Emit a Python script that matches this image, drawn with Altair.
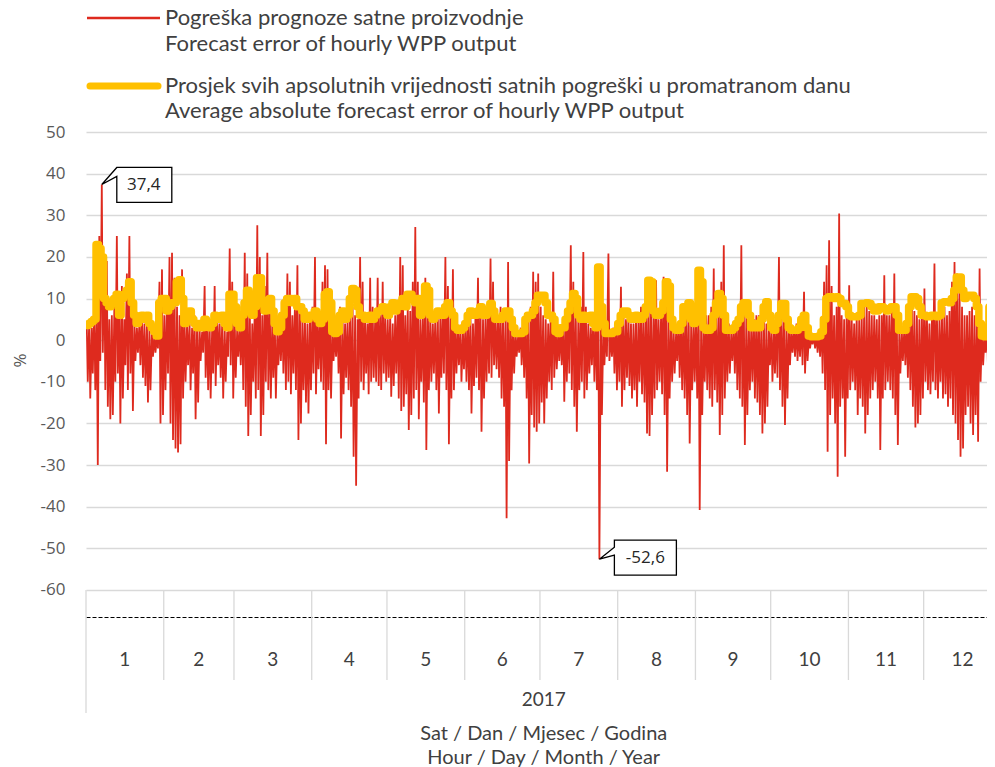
import altair as alt
import pandas as pd

# ---------------- data ----------------
month_days = [31, 28, 31, 30, 31, 30, 31, 31, 30, 31, 30, 31]
month_labels = ["1", "2", "3", "4", "5", "6", "7", "8", "9", "10", "11", "12"]
year_label = "2017"
legend_red = ["Pogreška prognoze satne proizvodnje", "Forecast error of hourly WPP output"]
legend_yellow = ["Prosjek svih apsolutnih vrijednosti satnih pogreški u promatranom danu",
                 "Average absolute forecast error of hourly WPP output"]
x_title = ["Sat / Dan / Mjesec / Godina", "Hour / Day / Month / Year"]
y_title = "%"
y_ticks = [-60, -50, -40, -30, -20, -10, 0, 10, 20, 30, 40, 50]

# daily highest hourly forecast error (%), one row per month
day_max = [
    4, 5, 3, 8, 6, 25, 37.4, 20, 19, 5, 6, 8, 25, 7, 13, 5, 16, 25, 8, 5, 3, 4, 6, 4, 4, 3, 2, 1, 1, 14, 17,
    6, 8, 20, 21, 15, 8, 6, 17, 5, 4, 4, 3, 6, 4, 3, 2, 13, 5, 4, 3, 13, 6, 4, 4, 3, 2, 22, 14,
    5, 3, 3, 6, 21, 16, 8, 4, 8, 27.6, 20, 6, 13, 21, 8, 5, 4, 2, 3, 6, 8, 16, 14, 6, 8, 18, 8, 6, 5, 4, 6,
    8, 20, 5, 6, 14, 18, 17, 6, 3, 2, 4, 8, 6, 4, 5, 6, 8, 6, 5, 20, 14, 6, 4, 15, 8, 5, 15, 6, 14, 6,
    5, 6, 4, 6, 8, 20, 18, 6, 8, 7, 14, 27.2, 14, 5, 6, 15, 8, 6, 4, 6, 5, 6, 8, 20, 13, 6, 17, 4, 3, 3, 2,
    4, 5, 6, 4, 6, 15, 8, 5, 6, 8, 19.6, 14, 5, 6, 8, 6, 5, 18.8, 6, 4, 2, 1, 3, 4, 5, 6, 8, 16.4, 14, 16,
    8, 6, 5, 4, 6, 16.4, 4, 2, 3, 5, 6, 8, 22.8, 14, 6, 5, 8, 21.2, 8, 4, 3, 5, 6, 8, 6, 4, 3, 20.8, 2, 3, 4,
    6, 12.8, 7, 5, 6, 4, 4, 5, 6, 8, 6, 7, 13, 8, 6, 14.4, 5, 6, 15.2, 14, 6, 4, 3, 2, 4, 5, 6, 7, 7, 4, 5,
    6, 8, 6, 4, 6, 6, 8, 17.2, 6, 8, 14, 22.8, 6, 4, 2, 3, 5, 6, 22.8, 8, 6, 4, 4, 5, 6, 6, 5, 6, 4, 3,
    3, 3, 5, 20, 8, 6, 4, 4, 3, 2, 4, 3, 5, 11.6, 4, 1, 1, 1, 1, 2, 4, 14, 18, 24, 13, 6, 8, 30.4, 6, 5, 7,
    13.2, 5, 4, 6, 5, 6, 8, 8, 7, 6, 6, 5, 6, 6, 15.6, 6, 6, 8, 16, 6, 3, 2, 3, 4, 6, 8, 7, 6, 5, 6,
    12.4, 6, 4, 5, 18.4, 6, 5, 6, 8, 6, 7, 14, 18.8, 16, 14, 8, 6, 6, 7, 8, 6, 5, 17.2, 3, 1, 3, 8, 6, 6, 5, 6,
]
# daily lowest hourly forecast error (%)
day_min = [
    -10, -14, -8, -12, -30, -5, -3, -12, -16, -19, -18, -10, -8, -20, -14, -6, -12, -8, -17, -5, -3, -6, -9, -11, -15, -12, -4, -3, -2, -20, -18,
    -12, -8, -20, -24, -26, -27, -25, -14, -10, -6, -12, -8, -19, -15, -5, -3, -9, -12, -14, -8, -11, -6, -9, -14, -10, -4, -6, -14,
    -9, -4, -6, -12, -16, -23, -18, -10, -14, -12, -23, -18, -10, -12, -14, -9, -14, -6, -5, -8, -12, -10, -13, -8, -12, -24, -20, -12, -15, -17.6, -12,
    -8, -13, -7, -10, -12, -25, -12, -14, -5, -4, -8, -23.6, -13, -9, -12, -16, -28, -35, -14, -10, -12, -8, -13, -10, -9, -10, -11, -12, -8, -10,
    -9, -13.6, -11, -8, -14, -17, -16, -13, -21.6, -18, -14, -12, -19, -10, -15, -26.4, -12, -10, -8, -12, -17.6, -9, -8, -12, -25, -14, -12, -8, -6, -10, -7,
    -10, -12, -17.6, -11, -9, -12, -22, -14, -10, -8, -9, -6, -7, -9, -14, -16, -42.8, -29, -12, -8, -4, -3, -6, -9, -14, -29.6, -18, -21, -22, -20,
    -15, -20, -14, -10, -12, -9, -7, -5, -6, -14.8, -10, -8, -12, -16, -22, -12, -10, -14, -12, -8, -6, -10, -12, -52.6, -18, -6, -4, -5, -4, -8, -12,
    -10, -16, -12, -9, -11, -14, -12, -16, -10, -13, -15, -22.4, -23, -18, -14, -12, -10, -13, -18, -31.6, -14, -10, -8, -5, -9, -12, -14, -18, -24.8, -12, -10,
    -14, -40.8, -18, -10, -12, -14, -16, -12, -15, -22.8, -18, -14, -10, -8, -5, -8, -12, -14, -16, -25.2, -18, -12, -10, -14, -15, -18, -22.4, -20, -16, -6,
    -10, -8, -9, -12, -16, -20.4, -14, -6, -3, -4, -5, -4, -6, -8, -5, -2, -1, -2, -3, -4, -8, -12, -26.8, -18, -14, -20, -32.8, -16, -14, -28, -14,
    -12, -10, -12, -18, -14, -16, -22.4, -18, -14, -12, -10, -14, -26.4, -14, -12, -10, -12, -14, -18, -25.2, -8, -5, -6, -9, -12, -16, -21, -20, -18, -14,
    -10, -12, -13, -10, -12, -14, -10, -14, -13, -16, -14, -18, -20, -24, -28, -26, -18, -16, -20, -22.8, -18, -24.4, -10, -6, -3, -8, -20, -28.8, -18, -16, -14,
]
# daily average of absolute hourly errors (%)
day_avg = [
    3.5, 4, 4.5, 5, 23, 22, 20, 10, 9, 8, 9, 10, 11, 6, 10, 11, 12, 14, 9, 6, 4, 5, 6, 5, 6, 4, 3, 2, 1, 9, 10,
    10, 7, 8, 9, 9, 14, 14.5, 10, 4, 6, 7, 5, 4, 3, 4, 3, 5, 4, 3, 4, 6, 5, 5, 6, 4, 3, 11, 11,
    8, 4, 3, 6, 9, 12, 10, 6, 8, 15, 15, 9, 7, 9.6, 10, 7, 4, 2, 3, 6, 9, 10, 10, 9, 10, 8, 8, 7, 5, 5, 6,
    6, 7, 5, 4, 5, 11, 11.6, 9, 2, 1.6, 2, 6, 7, 5, 6, 10, 12.4, 12, 8, 6, 6, 5, 5, 6, 5, 6, 7, 7, 8, 7,
    6, 8, 9, 7, 8, 9, 10, 8, 11, 11, 10, 9, 10, 6, 9, 13, 12, 6, 5, 6, 7, 6, 6, 8, 9, 7, 6, 3, 2.4, 2.4, 3,
    4, 6, 7, 6, 6, 7, 8, 6, 6, 7, 8.8, 7, 5, 5, 5, 6, 7, 7, 5, 3, 1.6, 1.6, 1.6, 2, 5, 6, 6, 7, 9, 10.8,
    10.8, 10.8, 9, 6, 6, 5, 2, 1.6, 3, 3, 5, 7, 9, 11.2, 10, 6, 5, 6, 5, 5, 6, 4, 3, 17.6, 8, 4, 1.6, 1.6, 1.6, 2, 2,
    4, 6, 7, 7, 6, 5, 5, 6, 5, 5, 6, 8, 14.4, 14, 7, 6, 6, 7, 9, 14, 13, 5, 3, 2.4, 2.4, 4, 8, 6, 9, 5, 4,
    5, 16.8, 14, 3, 2.4, 2.4, 3, 6, 9, 11.2, 10, 6, 2.4, 2.4, 2.4, 3, 4, 5, 8, 9, 9, 6, 3, 3, 4, 3, 5, 8, 9.2, 6,
    3, 2.4, 4, 6, 8.8, 8.8, 5, 3, 2.4, 2.4, 2.4, 3, 5, 6, 3, 1, 0.8, 0.8, 0.8, 1, 2, 5, 10, 10.4, 10.4, 10, 10.4, 10, 8.8, 8.8, 8,
    6, 5.6, 5.6, 5.6, 6, 8.8, 8.8, 9, 8.8, 8, 7, 7, 8, 8, 7.6, 7, 7.6, 8, 8, 6, 2.4, 2.4, 2.4, 4, 8, 10.4, 10.4, 10, 8, 6,
    6, 5.6, 5.6, 6, 6, 5.6, 6, 9, 9.2, 9.2, 9, 10, 12, 15.2, 15.2, 12, 10, 10.8, 10.8, 10.8, 10, 8, 4, 1, 0.8, 3, 8, 11.2, 10, 8, 6,
]

# ---------------- styling ----------------
RED = "#DE2A1E"
YELLOW = "#FFC000"
GRID = "#D9D9D9"
TEXTFONT = "Lato"
TEXTCOL = "#404040"
W, H = 901, 485
PX_PER_DAY = 2.508
X_MAX = W / PX_PER_DAY
Y_MIN, Y_MAX = -66.5, 50

n_days = sum(month_days)
assert len(day_max) == n_days and len(day_min) == n_days and len(day_avg) == n_days

rows = []
for d, (hi, lo) in enumerate(zip(day_max, day_min)):
    rows.append({"t": d + 0.3, "v": hi})
    rows.append({"t": d + 0.7, "v": lo})
red_df = pd.DataFrame(rows)
avg_df = pd.DataFrame({"t": list(range(n_days)) + [n_days], "v": day_avg + [day_avg[-1]]})

starts = [sum(month_days[:i]) for i in range(12)]
month_df = pd.DataFrame({"label": month_labels,
                         "mid": [s + d / 2 for s, d in zip(starts, month_days)],
                         "start": starts})
sep_df = month_df[month_df["start"] > 0]

xs = alt.Scale(domain=[0, X_MAX], nice=False, zero=False)
ys = alt.Scale(domain=[Y_MIN, Y_MAX], nice=False, zero=False)

x_enc = alt.X("t:Q", scale=xs, axis=alt.Axis(title=None, labels=False, ticks=False, grid=False,
                                             domain=True, domainColor="#000000", domainDash=[4, 2],
                                             domainWidth=1))
y_enc = alt.Y("v:Q", scale=ys, axis=alt.Axis(
    title=y_title, values=y_ticks, labelExpr="'' + datum.value", grid=True, gridColor=GRID,
    gridWidth=1.3, ticks=False, domain=False, labelPadding=21, labelFont="Open Sans",
    labelFontSize=17, labelColor="#595959", titleFont="Open Sans", titleFontSize=17,
    titleFontWeight="normal", titleColor="#595959", titleAngle=-90, titleX=-66, titleY=228,
    titleAlign="center", titleBaseline="middle"))

red = alt.Chart(red_df).mark_line(color=RED, strokeWidth=1.8, clip=True).encode(x=x_enc, y=y_enc)
yellow = alt.Chart(avg_df).mark_line(color=YELLOW, strokeWidth=7.5, interpolate="step-after",
                                     strokeJoin="round", strokeCap="round", clip=True).encode(
    x=alt.X("t:Q", scale=xs), y=alt.Y("v:Q", scale=ys))

# category separators below the plot
seps = alt.Chart(sep_df).mark_rule(color=GRID, strokeWidth=1.3).encode(
    x=alt.X("start:Q", scale=xs), y=alt.value(458), y2=alt.value(548))
left_sep = alt.Chart(month_df.head(1)).mark_rule(color=GRID, strokeWidth=1.3).encode(
    x=alt.X("start:Q", scale=xs), y=alt.value(458), y2=alt.value(581))
mlabels = alt.Chart(month_df).mark_text(font=TEXTFONT, fontSize=19, color=TEXTCOL).encode(
    x=alt.X("mid:Q", scale=xs), y=alt.value(528), text="label:N")

year_df = pd.DataFrame({"mid": [n_days / 2], "label": [year_label]})
ylabel = alt.Chart(year_df).mark_text(font=TEXTFONT, fontSize=19, color=TEXTCOL).encode(
    x=alt.X("mid:Q", scale=xs), y=alt.value(568), text="label:N")

title_layers = []
for lab, ypx in zip(x_title, [602, 626]):
    tdf = pd.DataFrame({"mid": [n_days / 2], "label": [lab]})
    title_layers.append(alt.Chart(tdf).mark_text(font=TEXTFONT, fontSize=20, color=TEXTCOL).encode(
        x=alt.X("mid:Q", scale=xs), y=alt.value(ypx), text="label:N"))

# callouts for the extreme values
imax = red_df["v"].idxmax()
imin = red_df["v"].idxmin()
ext_df = pd.DataFrame({"t": [red_df.loc[imax, "t"]], "v": [red_df.loc[imax, "v"]]})
ext_df2 = pd.DataFrame({"t": [red_df.loc[imin, "t"]], "v": [red_df.loc[imin, "v"]]})
for df in (ext_df, ext_df2):
    df["label"] = df["v"].map(lambda x: f"{x:.1f}".replace(".", ","))

box1 = alt.Chart(ext_df).mark_point(shape="M0,0L15,-17L70,-17L70,18L15,18L15,-8Z", size=4,
                                    filled=True, fill="white", stroke="black", strokeWidth=1.3,
                                    opacity=1).encode(x=alt.X("t:Q", scale=xs), y=alt.Y("v:Q", scale=ys))
txt1 = alt.Chart(ext_df).mark_text(font="Open Sans", fontSize=17, color="#262626", dx=42, dy=1).encode(
    x=alt.X("t:Q", scale=xs), y=alt.Y("v:Q", scale=ys), text="label:N")
box2 = alt.Chart(ext_df2).mark_point(shape="M0,0L15,-12L15,-19L77,-19L77,16L15,16L15,-4Z", size=4,
                                     filled=True, fill="white", stroke="black", strokeWidth=1.3,
                                     opacity=1).encode(x=alt.X("t:Q", scale=xs), y=alt.Y("v:Q", scale=ys))
txt2 = alt.Chart(ext_df2).mark_text(font="Open Sans", fontSize=17, color="#262626", dx=46, dy=-1).encode(
    x=alt.X("t:Q", scale=xs), y=alt.Y("v:Q", scale=ys), text="label:N")

# legend drawn by hand
leg_lines = pd.DataFrame({"name": ["red", "yellow"]})
leg_red = alt.Chart(leg_lines.head(1)).mark_rule(color=RED, strokeWidth=2.5).encode(
    x=alt.value(1), x2=alt.value(74), y=alt.value(-114))
leg_yel = alt.Chart(leg_lines.tail(1)).mark_rule(color=YELLOW, strokeWidth=7, strokeCap="round").encode(
    x=alt.value(4), x2=alt.value(72), y=alt.value(-46))
legend_layers = []
for lab, ypx in zip(legend_red + legend_yellow, [-114, -88, -46, -21]):
    ldf = pd.DataFrame({"label": [lab]})
    legend_layers.append(alt.Chart(ldf).mark_text(font=TEXTFONT, fontSize=22, color=TEXTCOL,
                                                  align="left", baseline="middle").encode(
        x=alt.value(79), y=alt.value(ypx), text="label:N"))

chart = alt.layer(red, yellow, seps, left_sep, mlabels, ylabel, *title_layers, box1, txt1, box2, txt2,
                  leg_red, leg_yel, *legend_layers).properties(
    width=W, height=H,
    autosize=alt.AutoSizeParams(type="none"),
    padding={"left": 78, "top": 124, "right": 0, "bottom": 150},
    background="white",
).configure_view(stroke=None)

chart.save("out.html", embed_options={"renderer": "svg", "actions": False})
